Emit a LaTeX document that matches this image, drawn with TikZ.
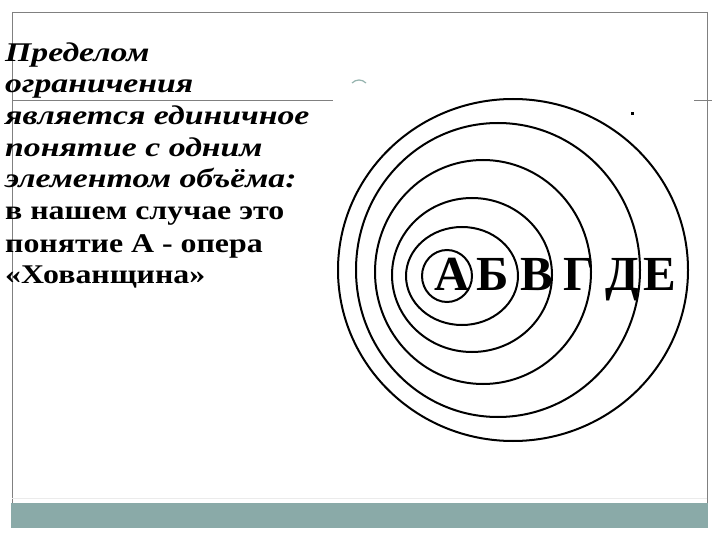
\documentclass[tikz,border=0pt]{standalone}
\usepackage{fontspec}
\setmainfont{Liberation Serif}
\newfontfamily\italwide[FakeStretch=1.25]{Liberation Serif}
\newfontfamily\upwide[FakeStretch=1.18]{Liberation Serif}
\definecolor{framegray}{RGB}{128,128,128}
\definecolor{barteal}{RGB}{138,170,168}
\definecolor{markgreen}{RGB}{150,180,175}
\begin{document}
\begin{tikzpicture}[x=1pt,y=-1pt,
  frameline/.style={draw=framegray,line width=0.9pt},
  ring/.style={draw=black,line width=2pt},
  bodyit/.style={anchor=base west,inner sep=0pt,font=\italwide\fontsize{27}{27}\selectfont\bfseries\itshape},
  bodyup/.style={anchor=base west,inner sep=0pt,font=\upwide\fontsize{27}{27}\selectfont\bfseries},
  letter/.style={anchor=base,inner sep=0pt,font=\fontsize{49}{49}\selectfont\bfseries}]
\useasboundingbox (0,0) rectangle (720,540);
\fill[white] (0,0) rectangle (720,540);
% frame
\draw[frameline] (12,12) -- (707,12);
\draw[frameline] (12,12) -- (12,503);
\draw[frameline] (707,12) -- (707,503);
\draw[frameline] (12,100) -- (333,100);
\draw[frameline] (694,100) -- (712,100);
\draw[draw=black!8,line width=0.8pt] (12,498) -- (707,498);
\fill[barteal] (11,503) rectangle (708,528);
% small marks
\draw[markgreen,line width=1.2pt] (352,83) .. controls (356,79) and (362,79) .. (366,83);
\fill[black] (631,112) rectangle (634,115);
% text
\node[bodyit] (t1) at (5,62) {Пределом};
\node[bodyit] (t2) at (5,93) {ограничения};
\node[bodyit] (t3) at (5,125) {является единичное};
\node[bodyit] (t4) at (5,157) {понятие с одним};
\node[bodyit] (t5) at (5,188) {элементом объёма:};
\node[bodyup] (t6) at (5,220) {в нашем случае это};
\node[bodyup] (t7) at (5,252) {понятие А - опера};
\node[bodyup] (t8) at (5,283) {«Хованщина»};
% rings
\draw[ring] (447,276) ellipse [x radius=25,y radius=26];
\draw[ring] (462,276) ellipse [x radius=56,y radius=49];
\draw[ring] (472,275) ellipse [x radius=80,y radius=77];
\draw[ring] (483,272) ellipse [x radius=108,y radius=112];
\draw[ring] (498,270) ellipse [x radius=142,y radius=147];
\draw[ring] (513,270) ellipse [x radius=175,y radius=171];
% letters
\node[letter] (la) at (452,290) {А};
\node[letter] (lb) at (493,290) {Б};
\node[letter] (lv) at (537,290) {В};
\node[letter] (lg) at (579,290) {Г};
\node[letter] (ld) at (622,290) {Д};
\node[letter] (le) at (660,290) {Е};
\end{tikzpicture}
\end{document}
